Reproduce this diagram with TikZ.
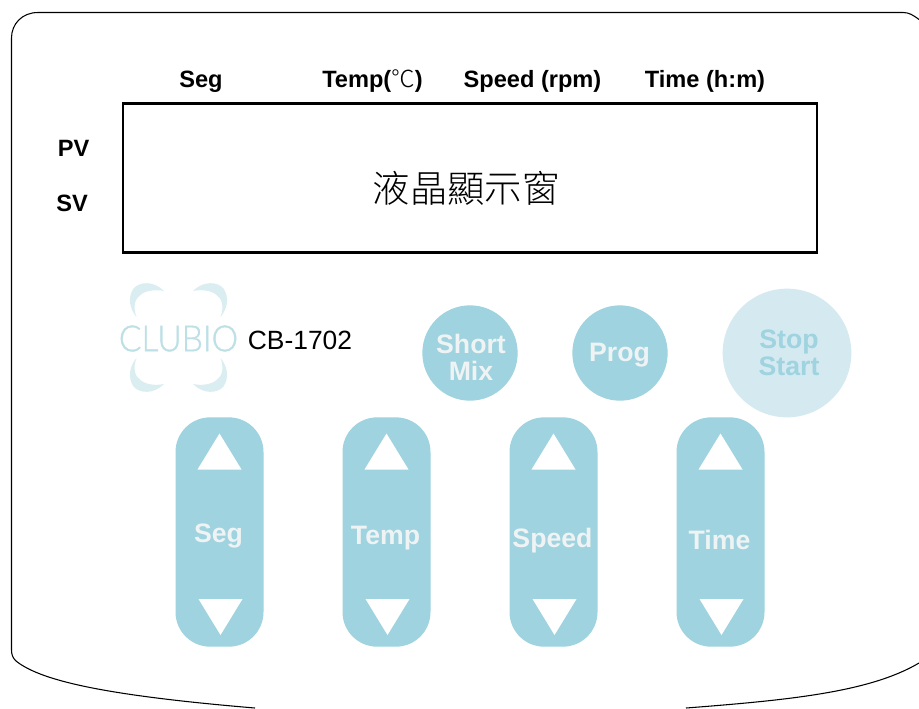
\documentclass[tikz,border=0pt]{standalone}
\usepackage{fontspec}
\setmainfont{Liberation Sans}
\newfontfamily\cjk{Noto Sans CJK TC Light}
\newfontfamily\logofont[FakeBold=1]{Lato Light}
\definecolor{btn}{HTML}{9ED3DF}
\definecolor{pale}{HTML}{D5E9F1}
\definecolor{btntext}{HTML}{EFF3F4}
\definecolor{logoc}{HTML}{BCE0E6}
\definecolor{logoarc}{HTML}{DAEDF0}
\tikzset{
  hdr/.style={font=\fontsize{17.7pt}{19pt}\selectfont\bfseries,text=black,inner sep=0pt,anchor=base},
  btnlabel/.style={font=\fontsize{20pt}{20.25pt}\selectfont\bfseries,text=btntext,inner sep=0pt,align=center},
  padlabel/.style={btnlabel,anchor=base},
  roundbtn/.style={circle,fill=btn,minimum size=71.5pt,inner sep=0pt},
  keypad/.style={rounded corners=26pt,fill=btn},
  tri/.style={fill=white},
  outline/.style={draw=black,line width=0.8pt},
  crescent/.style={fill=logoarc}
}
\begin{document}
\begin{tikzpicture}[x=0.75pt,y=-0.75pt]
\useasboundingbox (0,0) rectangle (919,708);
\fill[white] (0,0) rectangle (919,708);
% outline
\draw[outline] (919,19.5) .. controls (913,15) and (909,12.5) .. (903,12.5) -- (38,12.5)
  .. controls (22,12.5) and (11.5,24) .. (11.5,38) -- (11.5,650) .. controls (11.5,655) and (13,658) .. (16,661)
  .. controls (40,680) and (100,695) .. (255,708);
\draw[outline] (919,663) .. controls (870,692) and (790,700) .. (686,708);
% display
\node[draw=black,line width=1.8pt,minimum width=520.5pt,minimum height=112pt,inner sep=0pt] (lcd) at (470,178) {};
\node[font=\cjk\fontsize{28pt}{30pt}\selectfont,inner sep=0pt] (lcdtext) at (466,188) {液晶顯示窗};
\node[hdr] (h1) at (201,87.5) {Seg};
\node[hdr] (h2) at (372.5,87.5) {Temp({\cjk\mdseries ℃})};
\node[hdr] (h3) at (532.5,87.5) {Speed (rpm)};
\node[hdr] (h4) at (705,87.5) {Time (h:m)};
\node[hdr] (pv) at (73.5,156) {PV};
\node[hdr] (sv) at (72,211) {SV};
% logo
\foreach \sx/\sy in {1/1,-1/1,1/-1,-1/-1}{
  \begin{scope}[shift={(178.5,337.5)},xscale=\sx,yscale=\sy]
    \fill[crescent] (-42,-20.5) .. controls (-49,-29) and (-51,-40) .. (-45,-49)
      .. controls (-39,-56) and (-25,-57) .. (-14.5,-46.5)
      .. controls (-32,-50) and (-50,-42) .. (-42,-20.5) -- cycle;
  \end{scope}
}
\node[font=\logofont\fontsize{27pt}{27pt}\selectfont,text=logoc,inner sep=0pt] (logo) at (178.5,338.5) {\scalebox{0.93}[1]{CLUBIO}};
\node[font=\fontsize{19.8pt}{20pt}\selectfont,inner sep=0pt] (model) at (300,340) {CB-1702};
% round buttons
\node[roundbtn] (mix) at (470,353) {};
\node[btnlabel] (mixlab) at (471,357) {Short\\Mix};
\node[roundbtn] (prog) at (620,353) {};
\node[btnlabel] (proglab) at (619.5,355) {Prog};
\node[circle,fill=pale,minimum size=96.5pt,inner sep=0pt] (stop) at (787,353) {};
\node[btnlabel,text=btn] (stoplab) at (789,353) {Stop\\Start};
% key pads
\foreach \n/\cx/\lab/\ly in {seg/219.5/Seg/542,temp/386.5/Temp/544,speed/553.5/Speed/547.5,time/720.5/Time/549}{
  \node[keypad,minimum width=66pt,minimum height=172pt,inner sep=0pt] (\n) at (\cx,532) {};
  \node[padlabel] (\n lab) at (\cx-1,\ly) {\lab};
  \fill[tri] (\cx-22,469.5) -- (\cx,433.5) -- (\cx+22,469.5) -- cycle;
  \fill[tri] (\cx-21,599) -- (\cx+1,635) -- (\cx+23,599) -- cycle;
}
\end{tikzpicture}
\end{document}
